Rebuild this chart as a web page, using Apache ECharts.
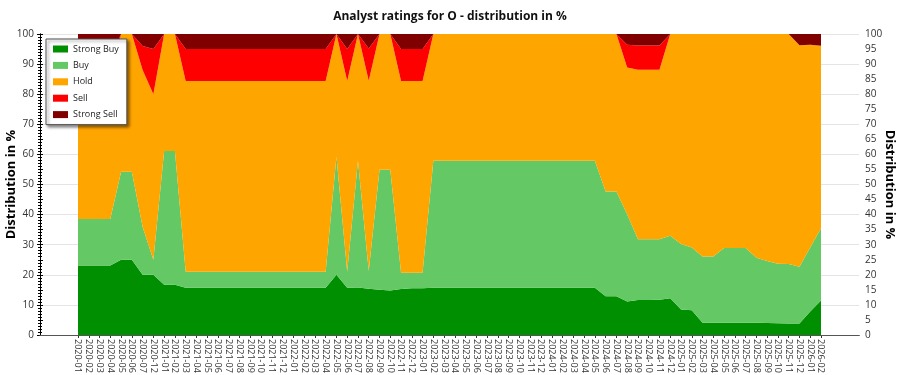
<!DOCTYPE html>
<html>
<head>
<meta charset="utf-8">
<script src="https://cdn.jsdelivr.net/npm/echarts@6/dist/echarts.min.js"></script>
<style>
  html, body { margin: 0; background: #fff; }
  #chart { width: 900px; height: 375px; }
</style>
</head>
<body>
<div id="chart"></div>
<script>
const months = [
  '2020-01', '2020-02', '2020-03', '2020-04', '2020-05', '2020-06', '2020-07', '2020-12',
  '2021-01', '2021-02', '2021-03', '2021-04', '2021-05', '2021-06', '2021-07', '2021-08', '2021-09', '2021-10', '2021-11', '2021-12',
  '2022-01', '2022-02', '2022-03', '2022-04', '2022-05', '2022-06', '2022-07', '2022-08', '2022-09', '2022-10', '2022-11', '2022-12',
  '2023-01', '2023-02', '2023-03', '2023-04', '2023-05', '2023-06', '2023-07', '2023-08', '2023-09', '2023-10', '2023-11', '2023-12',
  '2024-01', '2024-02', '2024-03', '2024-04', '2024-05', '2024-06', '2024-07', '2024-08', '2024-09', '2024-10', '2024-11', '2024-12',
  '2025-01', '2025-02', '2025-03', '2025-04', '2025-05', '2025-06', '2025-07', '2025-08', '2025-09', '2025-10', '2025-11', '2025-12',
  '2026-01', '2026-02'
];

// percentages per month
const strongBuy = [
  23.1, 23.1, 23.1, 23.1, 25.0, 25.0, 20.0, 20.0, 16.7, 16.7,
  15.7, 15.7, 15.7, 15.7, 15.7, 15.7, 15.7, 15.7, 15.7, 15.7,
  15.7, 15.7, 15.7, 15.7, 20.0, 15.7, 15.8, 15.4, 15.0, 14.8,
  15.3, 15.5, 15.5, 15.7, 15.7, 15.7, 15.7, 15.7, 15.7, 15.7,
  15.7, 15.7, 15.7, 15.7, 15.7, 15.7, 15.7, 15.7, 15.7, 12.9,
  12.9, 11.1, 11.6, 11.6, 11.7, 12.2, 8.5, 8.2, 4.1, 4.1,
  4.1, 4.1, 4.1, 4.1, 4.0, 3.9, 3.8, 3.8, 7.8, 11.5
];
const buy = [
  15.4, 15.4, 15.4, 15.4, 29.2, 29.2, 16.0, 5.0, 44.4, 44.4,
  5.3, 5.3, 5.3, 5.3, 5.3, 5.3, 5.3, 5.3, 5.3, 5.3,
  5.3, 5.3, 5.3, 5.3, 39.3, 5.3, 42.1, 5.9, 39.9, 40.1,
  5.4, 5.2, 5.2, 42.2, 42.2, 42.2, 42.2, 42.2, 42.2, 42.2,
  42.2, 42.2, 42.2, 42.2, 42.2, 42.2, 42.2, 42.2, 42.2, 34.8,
  34.8, 29.0, 20.2, 20.2, 20.1, 20.8, 21.7, 20.9, 22.0, 22.0,
  24.8, 24.8, 24.8, 21.6, 20.6, 19.8, 19.8, 18.9, 21.3, 24.0
];
const hold = [
  46.1, 46.1, 46.1, 46.1, 45.8, 45.8, 52.0, 55.0, 38.9, 38.9,
  63.4, 63.4, 63.4, 63.4, 63.4, 63.4, 63.4, 63.4, 63.4, 63.4,
  63.4, 63.4, 63.4, 63.4, 40.7, 63.4, 42.1, 63.2, 45.1, 45.1,
  63.7, 63.7, 63.7, 42.1, 42.1, 42.1, 42.1, 42.1, 42.1, 42.1,
  42.1, 42.1, 42.1, 42.1, 42.1, 42.1, 42.1, 42.1, 42.1, 52.3,
  52.3, 48.8, 56.3, 56.3, 56.3, 67.0, 69.8, 70.9, 73.9, 73.9,
  71.1, 71.1, 71.1, 74.3, 75.4, 76.3, 76.4, 73.6, 67.3, 60.6
];
const sell = [
  7.7, 7.7, 7.7, 7.7, 0, 0, 8.0, 15.0, 0, 0,
  10.6, 10.6, 10.6, 10.6, 10.6, 10.6, 10.6, 10.6, 10.6, 10.6,
  10.6, 10.6, 10.6, 10.6, 0, 10.6, 0, 10.7, 0, 0,
  10.6, 10.6, 10.6, 0, 0, 0, 0, 0, 0, 0,
  0, 0, 0, 0, 0, 0, 0, 0, 0, 0,
  0, 7.5, 8.1, 8.1, 8.1, 0, 0, 0, 0, 0,
  0, 0, 0, 0, 0, 0, 0, 0, 0, 0
];
const strongSell = [
  7.7, 7.7, 7.7, 7.7, 0, 0, 4.0, 5.0, 0, 0,
  5.0, 5.0, 5.0, 5.0, 5.0, 5.0, 5.0, 5.0, 5.0, 5.0,
  5.0, 5.0, 5.0, 5.0, 0, 5.0, 0, 4.8, 0, 0,
  5.0, 5.0, 5.0, 0, 0, 0, 0, 0, 0, 0,
  0, 0, 0, 0, 0, 0, 0, 0, 0, 0,
  0, 3.6, 3.8, 3.8, 3.8, 0, 0, 0, 0, 0,
  0, 0, 0, 0, 0, 0, 0, 3.7, 3.6, 3.9
];

const FONT = "'Open Sans', sans-serif";

function areaSeries(name, data, color) {
  return {
    name: name,
    type: 'line',
    stack: 'total',
    xAxisIndex: 1,
    yAxisIndex: 2,
    data: data,
    symbol: 'none',
    lineStyle: { width: 0 },
    itemStyle: { color: color },
    areaStyle: { color: color, opacity: 1 }
  };
}

const chart = echarts.init(document.getElementById('chart'));

const axisLine = { show: true, lineStyle: { color: '#000', width: 1 } };
const yLabel = { color: '#333', fontSize: 10, fontFamily: FONT, margin: 6 };
const yName = { color: '#000', fontSize: 13, fontWeight: 'bold', fontFamily: FONT };

chart.setOption({
  animation: false,
  backgroundColor: '#fff',
  title: {
    text: 'Analyst ratings for O - distribution in %',
    left: 'center',
    top: 6,
    textStyle: { color: '#111', fontSize: 12, fontWeight: 'bold', fontFamily: FONT }
  },
  legend: {
    orient: 'vertical',
    left: 46,
    top: 39,
    icon: 'rect',
    itemWidth: 15,
    itemHeight: 7,
    itemGap: 4.4,
    itemTextGap: 4,
    padding: [4, 8, 4, 7],
    backgroundColor: '#fff',
    borderColor: '#555',
    borderWidth: 1,
    shadowColor: 'rgba(0,0,0,0.45)',
    shadowBlur: 3,
    shadowOffsetX: 2,
    shadowOffsetY: 2,
    textStyle: { color: '#222', fontSize: 9, lineHeight: 12, fontFamily: FONT },
    data: ['Strong Buy', 'Buy', 'Hold', 'Sell', 'Strong Sell']
  },
  grid: [
    { left: 40, right: 41, top: 34, bottom: 40, outerBoundsMode: 'none' },
    { left: 78, right: 79, top: 34, bottom: 40, outerBoundsMode: 'none' }
  ],
  xAxis: [
    {
      gridIndex: 0, type: 'value', min: 0, max: 1,
      axisLine: axisLine, axisTick: { show: false }, axisLabel: { show: false }, splitLine: { show: false }
    },
    {
      gridIndex: 1, type: 'category', boundaryGap: false, data: months,
      axisLine: { show: false },
      axisTick: { show: true, length: 3, interval: 0, lineStyle: { color: '#333' } },
      axisLabel: { interval: 0, rotate: -90, color: '#333', fontSize: 9, fontFamily: FONT, margin: 4 },
      splitLine: { show: false }
    },
    {
      gridIndex: 0, type: 'value', min: 0, max: 1, position: 'top', z: 5,
      axisLine: { show: true, lineStyle: { color: '#555', width: 1 } },
      axisTick: { show: false }, axisLabel: { show: false }, splitLine: { show: false }
    }
  ],
  yAxis: [
    {
      gridIndex: 0, type: 'value', min: 0, max: 100, interval: 10, position: 'left',
      name: 'Distribution in %', nameLocation: 'middle', nameGap: 22, nameRotate: 90,
      nameMoveOverlap: false, nameTextStyle: yName,
      axisLine: axisLine,
      axisTick: { show: true, length: 3, lineStyle: { color: '#000' } },
      minorTick: { show: true, splitNumber: 10, length: 2, lineStyle: { color: '#000' } },
      axisLabel: yLabel,
      splitLine: { show: true, lineStyle: { color: '#e4e4e4', width: 1 } }
    },
    {
      gridIndex: 0, type: 'value', min: 0, max: 100, interval: 5, position: 'right',
      name: 'Distribution in %', nameLocation: 'middle', nameGap: 24, nameRotate: -90,
      nameMoveOverlap: false, nameTextStyle: yName,
      axisLine: axisLine,
      axisTick: { show: true, length: 3, lineStyle: { color: '#000' } },
      minorTick: { show: true, splitNumber: 5, length: 2, lineStyle: { color: '#000' } },
      axisLabel: yLabel,
      splitLine: { show: false }
    },
    {
      gridIndex: 1, type: 'value', min: 0, max: 100, show: false
    }
  ],
  series: [
    areaSeries('Strong Buy', strongBuy, '#008f00'),
    areaSeries('Buy', buy, '#64c864'),
    areaSeries('Hold', hold, '#ffa500'),
    areaSeries('Sell', sell, '#ff0000'),
    areaSeries('Strong Sell', strongSell, '#800000')
  ]
});
</script>
</body>
</html>
